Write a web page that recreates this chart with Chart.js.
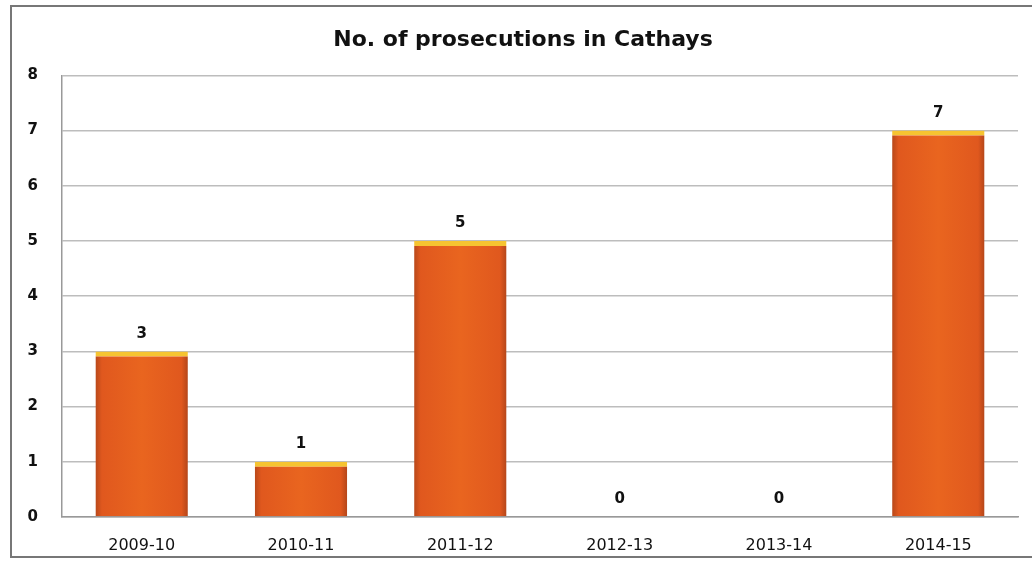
<!DOCTYPE html>
<html>
<head>
<meta charset="utf-8">
<script src="https://cdn.jsdelivr.net/npm/chart.js@4"></script>
<style>
  html, body { margin: 0; padding: 0; background: #fff; }
  #wrap { position: relative; width: 1032px; height: 563px; overflow: hidden; }
  #frame { position: absolute; left: 10px; top: 5px; width: 1040px; height: 553px; border: 2px solid #777; box-sizing: border-box; }
  canvas { position: absolute; left: 0; top: 0; }
</style>
</head>
<body>
<div id="wrap">
  <div id="frame"></div>
  <canvas id="myChart" width="1032" height="563"></canvas>
</div>
<script>
// data
const years = ["2009-10", "2010-11", "2011-12", "2012-13", "2013-14", "2014-15"];
const prosecutions = [3, 1, 5, 0, 0, 7];
const chartTitle = "No. of prosecutions in Cathays";
const barShare = 0.58;

// bar fill - darker at the edges like the old excel bevel
function barFill(context) {
  const chart = context.chart;
  const area = chart.chartArea;
  const xs = chart.scales.x;
  if (!area || !xs || context.dataIndex === undefined) return "#E2591E";
  const w = (area.right - area.left) / years.length * barShare;
  const cx = xs.getPixelForValue(context.dataIndex);
  const x0 = cx - w / 2;
  const g = chart.ctx.createLinearGradient(x0, 0, x0 + w, 0);
  g.addColorStop(0, "#B8481A");
  g.addColorStop(0.07, "#E0581E");
  g.addColorStop(0.5, "#E9651F");
  g.addColorStop(0.93, "#E0581E");
  g.addColorStop(1, "#B4461A");
  return g;
}

// value labels above the bars
const valueLabels = {
  id: "valueLabels",
  afterDatasetsDraw(chart) {
    const ctx = chart.ctx;
    const meta = chart.getDatasetMeta(0);
    ctx.save();
    ctx.font = "bold 15px 'DejaVu Sans'";
    ctx.fillStyle = "#111";
    ctx.textAlign = "center";
    ctx.textBaseline = "bottom";
    meta.data.forEach(function (bar, i) {
      ctx.fillText(prosecutions[i], bar.x, bar.y - 10);
    });
    ctx.restore();
  }
};

const config = {
  type: "bar",
  data: {
    labels: years,
    datasets: [
      {
        data: prosecutions,
        backgroundColor: barFill,
        borderColor: "#F6C431",
        borderWidth: { top: 5, left: 0, right: 0, bottom: 0 },
        borderSkipped: false,
        categoryPercentage: barShare,
        barPercentage: 1.0,
      },
    ],
  },
  options: {
    responsive: false,
    animation: false,
    layout: { padding: { top: 21, right: 14, left: 28, bottom: 0 } },
    scales: {
      y: {
        min: 0,
        max: 8,
        ticks: {
          stepSize: 1,
          padding: 24,
          color: "#111",
          font: { family: "DejaVu Sans", size: 15, weight: "bold" },
        },
        grid: { color: "#bdbdbd", lineWidth: 1.5, drawTicks: false },
        border: { display: true, color: "#999", width: 1.5 },
        afterFit: function (scale) { scale.width = 34; },
      },
      x: {
        ticks: {
          padding: 19,
          color: "#111",
          font: { family: "DejaVu Sans", size: 16 },
        },
        grid: { display: false, drawTicks: false },
        border: { display: true, color: "#999", width: 1.5 },
        afterFit: function (scale) { scale.height = 46; },
      },
    },
    plugins: {
      legend: { display: false },
      tooltip: { enabled: false },
      title: {
        display: true,
        text: chartTitle,
        color: "#111",
        font: { family: "DejaVu Sans", size: 22, weight: "bold" },
        padding: { top: 6, bottom: 22 },
      },
    },
  },
  plugins: [valueLabels],
};

var myChart = new Chart(document.getElementById("myChart"), config);
</script>
</body>
</html>
